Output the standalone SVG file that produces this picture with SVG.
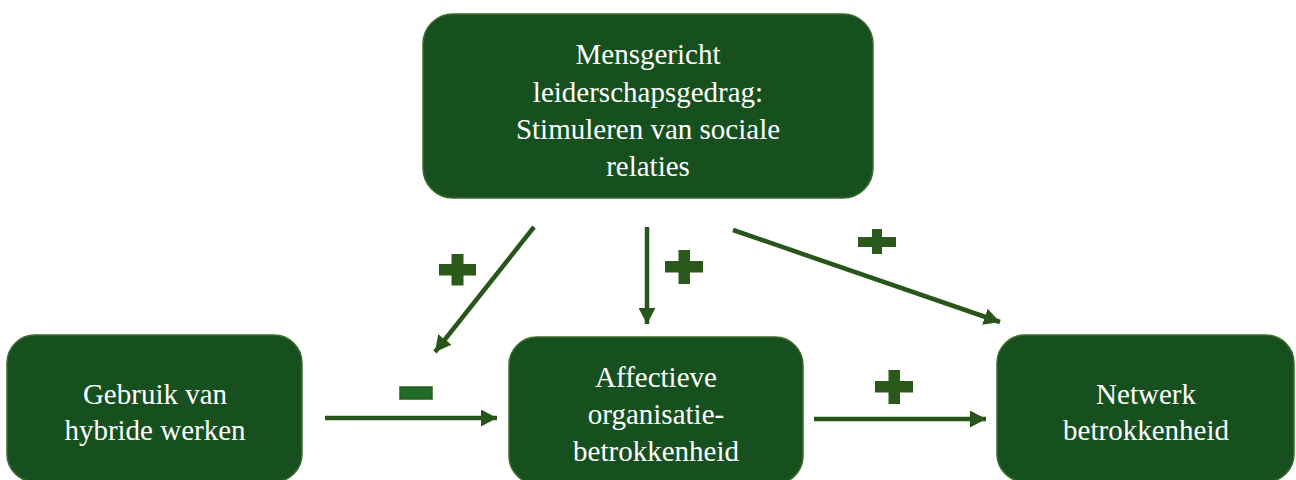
<svg xmlns="http://www.w3.org/2000/svg" width="1296" height="480" viewBox="0 0 1296 480">
<style>
.box{fill:#17501f;stroke:#3d6b2c;stroke-width:1.5}
.lbl{font-family:'Liberation Serif','Times New Roman',serif;font-size:29px;fill:#ffffff;text-anchor:middle}
.conn{stroke:#28561a;stroke-width:4.5;fill:none}
.sign{fill:#2a5a1b}
</style>
<defs>
<marker id="ah" markerUnits="userSpaceOnUse" markerWidth="16" markerHeight="17" viewBox="0 0 16 17" refX="16" refY="8.5" orient="auto">
<path d="M0,0 L16,8.5 L0,17 Z" fill="#28561a"/>
</marker>
</defs>
<g id="node-leiderschap">
<rect class="box" x="423" y="14" width="450" height="184" rx="30"/>
<text class="lbl" x="648" y="64">Mensgericht</text>
<text class="lbl" x="648" y="102">leiderschapsgedrag:</text>
<text class="lbl" x="648" y="139">Stimuleren van sociale</text>
<text class="lbl" x="648" y="176">relaties</text>
</g>
<g id="node-hybride">
<rect class="box" x="7" y="335" width="295" height="147" rx="28"/>
<text class="lbl" x="155" y="404">Gebruik van</text>
<text class="lbl" x="155" y="440">hybride werken</text>
</g>
<g id="node-affectief">
<rect class="box" x="509" y="337" width="294" height="147" rx="28"/>
<text class="lbl" x="656" y="387">Affectieve</text>
<text class="lbl" x="656" y="424">organisatie-</text>
<text class="lbl" x="656" y="461">betrokkenheid</text>
</g>
<g id="node-netwerk">
<rect class="box" x="997" y="335" width="297" height="147" rx="28"/>
<text class="lbl" x="1146" y="404">Netwerk</text>
<text class="lbl" x="1146" y="440">betrokkenheid</text>
</g>
<g id="connectors">
<line class="conn" x1="534" y1="227" x2="435" y2="352" marker-end="url(#ah)"/>
<line class="conn" x1="647" y1="227" x2="647" y2="324" marker-end="url(#ah)"/>
<line class="conn" x1="733" y1="230" x2="1000" y2="322" marker-end="url(#ah)"/>
<line class="conn" x1="325" y1="418" x2="497" y2="418" marker-end="url(#ah)"/>
<line class="conn" x1="814" y1="419" x2="986" y2="419" marker-end="url(#ah)"/>
</g>
<g id="signs">
<path class="sign" d="M439,264 h12.5 v-10 h12 v10 h12.5 v11.5 h-12.5 v10 h-12 v-10 h-12.5 Z"/>
<path class="sign" d="M665,261 h13.5 v-11 h11.5 v11 h13 v11.5 h-13 v11.5 h-11.5 v-11.5 h-13.5 Z"/>
<path class="sign" d="M858,237 h14 v-8 h10 v8 h14 v10 h-14 v7 h-10 v-7 h-14 Z"/>
<path class="sign" d="M875,381 h13.5 v-11 h11.5 v11 h13 v11.5 h-13 v11.5 h-11.5 v-11.5 h-13.5 Z"/>
<rect x="400" y="387" width="32" height="12" fill="#1e6b2a" stroke="#2a5a1b" stroke-width="1.5"/>
</g>
</svg>
